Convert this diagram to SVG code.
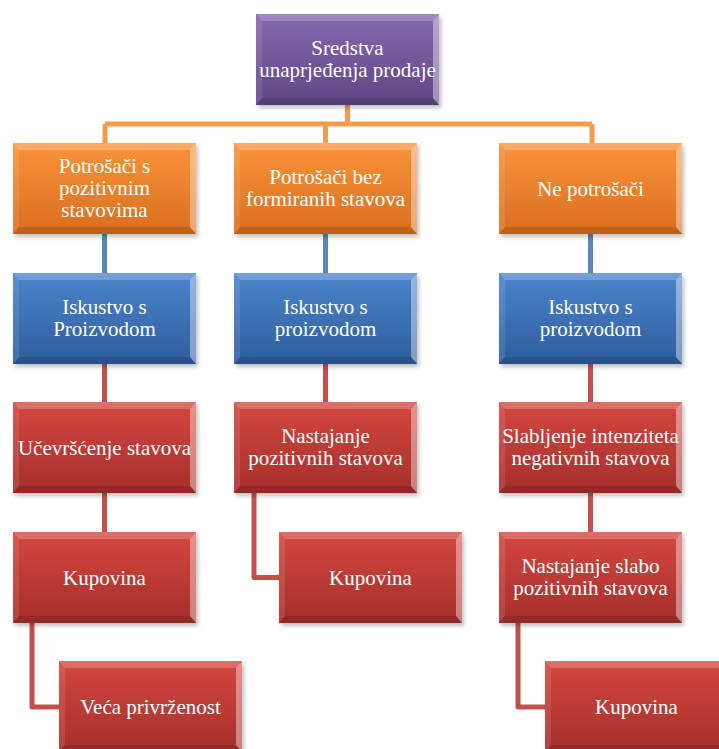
<svg xmlns="http://www.w3.org/2000/svg" xmlns:xlink="http://www.w3.org/1999/xlink" width="719" height="749" viewBox="0 0 719 749">
<defs>
<linearGradient id="gPurple" x1="0" y1="0" x2="0" y2="1"><stop offset="0" stop-color="#8568ae"/><stop offset="1" stop-color="#5f4686"/></linearGradient>
<linearGradient id="gOrange" x1="0" y1="0" x2="0" y2="1"><stop offset="0" stop-color="#fa933a"/><stop offset="1" stop-color="#d96e1f"/></linearGradient>
<linearGradient id="gBlue" x1="0" y1="0" x2="0" y2="1"><stop offset="0" stop-color="#4b85cc"/><stop offset="1" stop-color="#2e5d9c"/></linearGradient>
<linearGradient id="gRed" x1="0" y1="0" x2="0" y2="1"><stop offset="0" stop-color="#d4473f"/><stop offset="1" stop-color="#a52f2c"/></linearGradient>
<filter id="shadow" x="-10%" y="-10%" width="130%" height="130%"><feGaussianBlur stdDeviation="2"/></filter>
<g id="bevel">
<rect x="2" y="3" width="183" height="91" fill="#000" opacity="0.25" filter="url(#shadow)"/>
</g>
<g id="bevelTop">
<polygon points="0,0 183,0 177,7 6,7" fill="#fff" opacity="0.22"/>
<polygon points="0,0 6,7 6,84 0,91" fill="#fff" opacity="0.10"/>
<polygon points="183,0 183,91 177,84 177,7" fill="#fff" opacity="0.40"/>
<polygon points="0,91 183,91 177,84 6,84" fill="#000" opacity="0.12"/>
</g>
</defs>
<style>
.box{stroke:none}
.purple{fill:url(#gPurple)}
.orange{fill:url(#gOrange)}
.blue{fill:url(#gBlue)}
.red{fill:url(#gRed)}
.lbl{font-family:'Times New Roman','Liberation Serif','DejaVu Serif',serif;font-size:21px;fill:#fff;text-anchor:middle}
.c{fill:none;stroke-width:5;stroke-linejoin:round}
.co{stroke:#f59b4c}
.cb{stroke:#5886c0}
.cr{stroke:#c4504d}
</style>
<g id="connectors">
<path class="c co" d="M347.5,105 V124 M105,124 H592 M105,124 V143 M325.5,124 V143 M592,124 V143"/>
<path class="c cb" d="M104.5,234 V273 M325.5,234 V273 M590.5,234 V273"/>
<path class="c cr" d="M104.5,364 V402 M325.5,364 V402 M590.5,364 V402 M104.5,493 V532 M590.5,493 V532"/>
<path class="c cr" d="M32,622 V707 H59 M254,493 V577.5 H279 M518,622 V707 H545"/>
</g>
<g id="nodes">
<g id="n-sredstva" transform="translate(256,14)"><use xlink:href="#bevel"/><rect class="box purple" width="183" height="91"/><use xlink:href="#bevelTop"/><text class="lbl" x="91.5" y="41">Sredstva</text><text class="lbl" x="91.5" y="63">unaprjeđenja prodaje</text></g>
<g id="n-pozitivni" transform="translate(13,143)"><use xlink:href="#bevel"/><rect class="box orange" width="183" height="91"/><use xlink:href="#bevelTop"/><text class="lbl" x="91.5" y="30">Potrošači s</text><text class="lbl" x="91.5" y="52">pozitivnim</text><text class="lbl" x="91.5" y="74">stavovima</text></g>
<g id="n-bez" transform="translate(234,143)"><use xlink:href="#bevel"/><rect class="box orange" width="183" height="91"/><use xlink:href="#bevelTop"/><text class="lbl" x="91.5" y="41">Potrošači bez</text><text class="lbl" x="91.5" y="63">formiranih stavova</text></g>
<g id="n-ne" transform="translate(499,143)"><use xlink:href="#bevel"/><rect class="box orange" width="183" height="91"/><use xlink:href="#bevelTop"/><text class="lbl" x="91.5" y="53">Ne potrošači</text></g>
<g id="n-isk1" transform="translate(13,273)"><use xlink:href="#bevel"/><rect class="box blue" width="183" height="91"/><use xlink:href="#bevelTop"/><text class="lbl" x="91.5" y="41">Iskustvo s</text><text class="lbl" x="91.5" y="63">Proizvodom</text></g>
<g id="n-isk2" transform="translate(234,273)"><use xlink:href="#bevel"/><rect class="box blue" width="183" height="91"/><use xlink:href="#bevelTop"/><text class="lbl" x="91.5" y="41">Iskustvo s</text><text class="lbl" x="91.5" y="63">proizvodom</text></g>
<g id="n-isk3" transform="translate(499,273)"><use xlink:href="#bevel"/><rect class="box blue" width="183" height="91"/><use xlink:href="#bevelTop"/><text class="lbl" x="91.5" y="41">Iskustvo s</text><text class="lbl" x="91.5" y="63">proizvodom</text></g>
<g id="n-ucvrscenje" transform="translate(13,402)"><use xlink:href="#bevel"/><rect class="box red" width="183" height="91"/><use xlink:href="#bevelTop"/><text class="lbl" x="91.5" y="53">Učevršćenje stavova</text></g>
<g id="n-nastajanje" transform="translate(234,402)"><use xlink:href="#bevel"/><rect class="box red" width="183" height="91"/><use xlink:href="#bevelTop"/><text class="lbl" x="91.5" y="41">Nastajanje</text><text class="lbl" x="91.5" y="63">pozitivnih stavova</text></g>
<g id="n-slabljenje" transform="translate(499,402)"><use xlink:href="#bevel"/><rect class="box red" width="183" height="91"/><use xlink:href="#bevelTop"/><text class="lbl" x="91.5" y="41">Slabljenje intenziteta</text><text class="lbl" x="91.5" y="63">negativnih stavova</text></g>
<g id="n-kupovina1" transform="translate(13,532)"><use xlink:href="#bevel"/><rect class="box red" width="183" height="91"/><use xlink:href="#bevelTop"/><text class="lbl" x="91.5" y="53">Kupovina</text></g>
<g id="n-kupovina2" transform="translate(279,532)"><use xlink:href="#bevel"/><rect class="box red" width="183" height="91"/><use xlink:href="#bevelTop"/><text class="lbl" x="91.5" y="53">Kupovina</text></g>
<g id="n-slabo" transform="translate(499,532)"><use xlink:href="#bevel"/><rect class="box red" width="183" height="91"/><use xlink:href="#bevelTop"/><text class="lbl" x="91.5" y="41">Nastajanje slabo</text><text class="lbl" x="91.5" y="63">pozitivnih stavova</text></g>
<g id="n-privrzenost" transform="translate(59,661)"><use xlink:href="#bevel"/><rect class="box red" width="183" height="91"/><use xlink:href="#bevelTop"/><text class="lbl" x="91.5" y="53">Veća privrženost</text></g>
<g id="n-kupovina3" transform="translate(545,661)"><use xlink:href="#bevel"/><rect class="box red" width="183" height="91"/><use xlink:href="#bevelTop"/><text class="lbl" x="91.5" y="53">Kupovina</text></g>
</g>
</svg>
